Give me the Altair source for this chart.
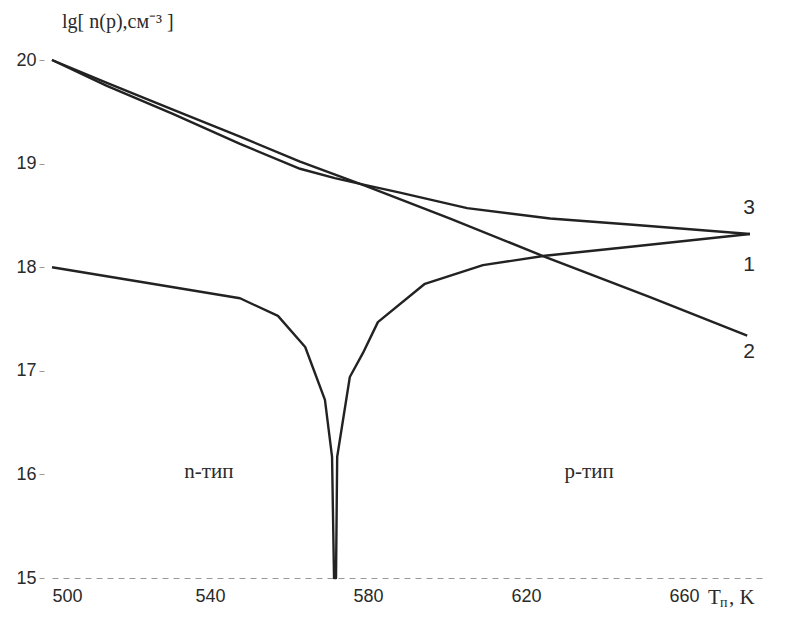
import altair as alt
import pandas as pd

# Curve 1 (n-type branch down to the p-n inversion, then p-type branch up)
curve1_T = [500.0, 522.3, 547.6, 557.2, 564.1, 569.1, 570.9, 571.4, 571.9, 572.2,
            575.4, 578.7, 582.5, 594.4, 609.1, 624.8, 647.1, 676.7]
curve1_V = [18.00, 17.86, 17.70, 17.53, 17.23, 16.72, 16.17, 15.00, 15.00, 16.17,
            16.94, 17.17, 17.47, 17.84, 18.02, 18.11, 18.20, 18.32]
# Curve 2 (nearly straight decline)
curve2_T = [500.0, 513.9, 530.6, 547.6, 562.8, 579.7, 600.8, 624.8, 651.4, 676.0]
curve2_V = [20.00, 19.78, 19.52, 19.26, 19.02, 18.78, 18.47, 18.10, 17.71, 17.34]
# Curve 3 (convex decline, levelling off)
curve3_T = [500.0, 513.9, 530.6, 547.6, 562.8, 571.6, 579.7, 588.1, 605.1, 626.1, 647.1, 676.7]
curve3_V = [20.00, 19.75, 19.48, 19.19, 18.95, 18.86, 18.79, 18.72, 18.57, 18.47, 18.41, 18.32]

x_ticks = [500, 540, 580, 620, 660]
y_ticks = [15, 16, 17, 18, 19, 20]

num_text = ["3", "1", "2"]
num_T = [676.5, 676.5, 676.5]
num_V = [18.57, 18.02, 17.18]

type_text = ["n-тип", "р-тип"]
type_T = [539.7, 636.0]
type_V = [16.02, 16.02]

rows = []
for name, ts, vs in (("1", curve1_T, curve1_V), ("2", curve2_T, curve2_V), ("3", curve3_T, curve3_V)):
    for i, (t, v) in enumerate(zip(ts, vs)):
        rows.append({"series": name, "T": t, "V": v, "order": i})
df = pd.DataFrame(rows)

nums = pd.DataFrame({"text": num_text, "T": num_T, "V": num_V})
types = pd.DataFrame({"text": type_text, "T": type_T, "V": type_V})

W = 711
H = 518

SANS = "Liberation Sans"
SERIF = "Liberation Serif"
INK = "#2a2a2a"

xscale = alt.Scale(domain=[500, 680], nice=False, zero=False)
yscale = alt.Scale(domain=[15, 20], nice=False, zero=False)

lines = alt.Chart(df).mark_line(color="#222222", strokeWidth=2.4, strokeJoin="round").encode(
    x=alt.X("T:Q", scale=xscale,
            axis=alt.Axis(values=x_ticks, title=None, ticks=False, domain=True,
                          domainDash=[6, 5], domainColor="#9a9a9a", domainWidth=1,
                          labelFont=SANS, labelFontSize=18,
                          labelColor=INK, labelPadding=9, grid=False)),
    y=alt.Y("V:Q", scale=yscale,
            axis=alt.Axis(values=y_ticks, format="d", title=None, domain=False,
                          ticks=True, tickSize=5, tickColor="#9a9a9a", offset=8,
                          labelFont=SANS, labelFontSize=18,
                          labelColor=INK, labelPadding=3, grid=False)),
    detail="series:N",
    order="order:Q",
)

num_labels = alt.Chart(nums).mark_text(
    font=SANS, fontSize=21, color=INK, align="center", baseline="middle"
).encode(x=alt.X("T:Q", scale=xscale), y=alt.Y("V:Q", scale=yscale), text="text:N")

type_labels = alt.Chart(types).mark_text(
    font=SERIF, fontSize=21, color=INK, align="center", baseline="middle"
).encode(x=alt.X("T:Q", scale=xscale), y=alt.Y("V:Q", scale=yscale), text="text:N")

y_title = alt.Chart(pd.DataFrame({"t": ["lg[ n(p),см⁻³ ]"]})).mark_text(
    font=SERIF, fontSize=20, color=INK, align="left", baseline="middle"
).encode(x=alt.value(10), y=alt.value(-38), text="t:N")

x_title_T = alt.Chart(pd.DataFrame({"t": ["T"]})).mark_text(
    font=SERIF, fontSize=21, color=INK, align="left", baseline="middle"
).encode(x=alt.value(656), y=alt.value(538), text="t:N")
x_title_sub = alt.Chart(pd.DataFrame({"t": ["п"]})).mark_text(
    font=SERIF, fontSize=14, color=INK, align="left", baseline="middle"
).encode(x=alt.value(668), y=alt.value(543), text="t:N")
x_title_K = alt.Chart(pd.DataFrame({"t": [",  K"]})).mark_text(
    font=SERIF, fontSize=21, color=INK, align="left", baseline="middle"
).encode(x=alt.value(677), y=alt.value(538), text="t:N")

chart = alt.layer(lines, num_labels, type_labels, y_title, x_title_T, x_title_sub, x_title_K).properties(
    width=W, height=H,
    autosize=alt.AutoSizeParams(type="none"),
    padding={"left": 44, "top": 52, "right": 30, "bottom": 33},
    background="white",
).configure_view(stroke=None)

chart.save("out.html", embed_options={"renderer": "svg", "actions": False})
